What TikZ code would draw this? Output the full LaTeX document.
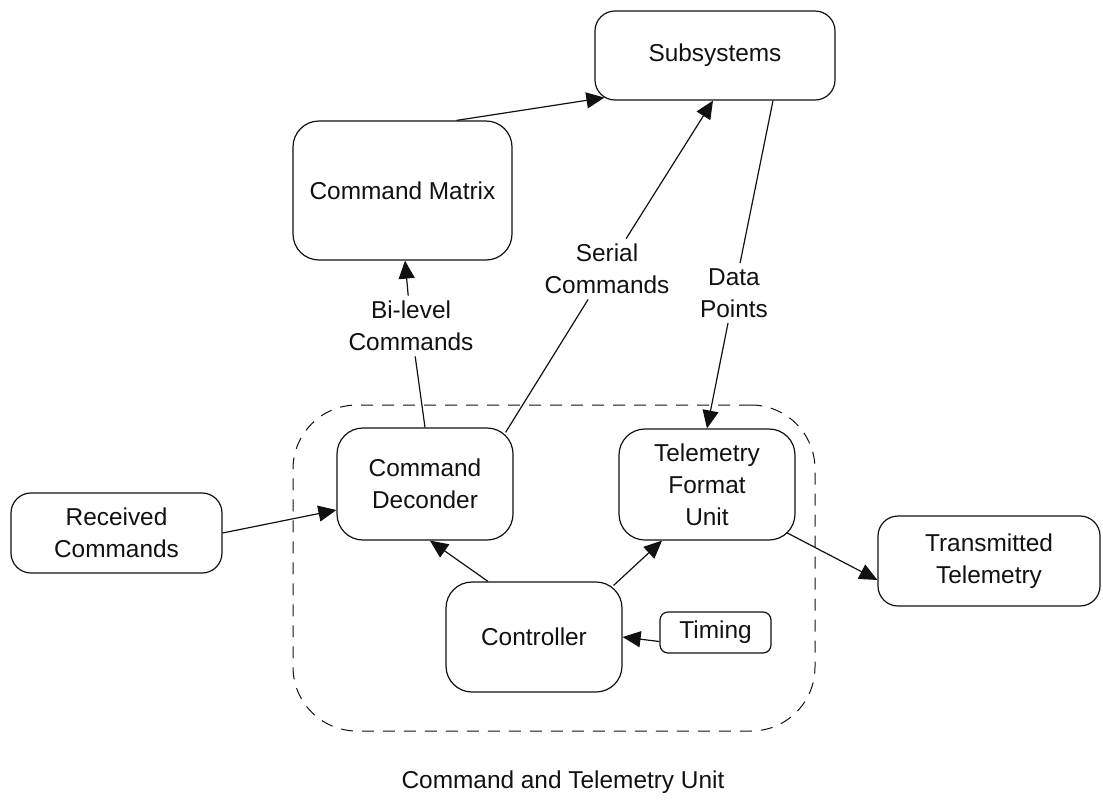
\documentclass[tikz,border=0pt]{standalone}
\usepackage{fontspec}
\setmainfont{Liberation Sans}
\usepackage{tikz}
\usetikzlibrary{arrows.meta}
\definecolor{CTInk}{HTML}{111111}
\tikzset{
  ctBlock/.style={
    rectangle, rounded corners=#1, draw=CTInk, fill=white,
    align=center, text=CTInk, inner sep=2pt, line width=0.6pt,
    font=\fontsize{12.2}{16}\selectfont
  },
  ctBlock/.default=13pt,
  ctLabel/.style={
    align=center, text=CTInk, inner sep=2.5pt,
    font=\fontsize{12.2}{16}\selectfont
  },
  ctFrame/.style={
    rectangle, rounded corners=32pt, draw=CTInk, fill=none,
    line width=0.5pt, dash pattern=on 6pt off 4.5pt
  },
  ctArrow/.style={-{Triangle[length=9pt,width=8pt]}, draw=CTInk, line width=0.6pt},
  ctLine/.style={draw=CTInk, line width=0.6pt}
}

\begin{document}
\begin{tikzpicture}[x=0.5pt, y=-0.5pt]
  \useasboundingbox (0,0) rectangle (1103,804);

  \node[ctFrame, minimum width=261pt, minimum height=163pt] (unit) at (554,568) {};

  \node[ctBlock=10pt, minimum width=120pt, minimum height=44.5pt] (sub) at (715,55.5) {Subsystems};
  \node[ctBlock, minimum width=109.5pt, minimum height=69.5pt] (matrix) at (402.5,190.5) {Command Matrix};
  \node[ctBlock, minimum width=88pt, minimum height=56pt] (dec) at (425,484) {Command\\Deconder};
  \node[ctBlock, minimum width=88pt, minimum height=55.5pt] (tfu) at (707,484.5) {Telemetry\\Format\\Unit};
  \node[ctBlock, minimum width=88pt, minimum height=55pt] (ctrl) at (534,637) {Controller};
  \node[ctBlock=4pt, minimum width=55.5pt, minimum height=20.5pt] (timing) at (715.5,632.5) {Timing};
  \node[ctBlock=10pt, minimum width=105.5pt, minimum height=40pt] (recv) at (116.5,533) {Received\\Commands};
  \node[ctBlock=10pt, minimum width=111pt, minimum height=45pt] (tx) at (989,561) {Transmitted\\Telemetry};

  \node[ctLabel] (bilvl) at (411,326) {Bi-level\\Commands};
  \node[ctLabel] (serial) at (607,269) {Serial\\Commands};
  \node[ctLabel] (data) at (734,293) {Data\\Points};
  \node[ctLabel] (title) at (563,782) {Command and Telemetry Unit};

  % links to and from the subsystems
  \draw[ctArrow] ([xshift=27pt]matrix.north) -- ([xshift=5pt,yshift=1.5pt]sub.south west);
  \draw[ctLine] (dec.north) -- (bilvl);
  \draw[ctArrow] (bilvl) -- ([xshift=1.25pt]matrix.south);
  \draw[ctLine] ([xshift=-4pt,yshift=-2.5pt]dec.north east) -- (serial);
  \draw[ctArrow] (serial) -- ([xshift=-1pt]sub.south);
  \draw[ctLine] ([xshift=29pt]sub.south) -- (data);
  \draw[ctArrow] (data) -- (tfu.north);

  % inside the unit
  \draw[ctArrow] ([xshift=-23pt]ctrl.north) -- ([xshift=2.5pt]dec.south);
  \draw[ctArrow] ([xshift=-4.5pt,yshift=-2pt]ctrl.north east) -- ([xshift=-22.5pt]tfu.south);
  \draw[ctArrow] ([yshift=-4.5pt]timing.west) -- (ctrl.east);

  \draw[ctArrow] (recv.east) -- ([yshift=-13pt]dec.west);
  \draw[ctArrow] ([xshift=-4.5pt,yshift=4pt]tfu.south east) -- ([yshift=-9.5pt]tx.west);
\end{tikzpicture}
\end{document}
